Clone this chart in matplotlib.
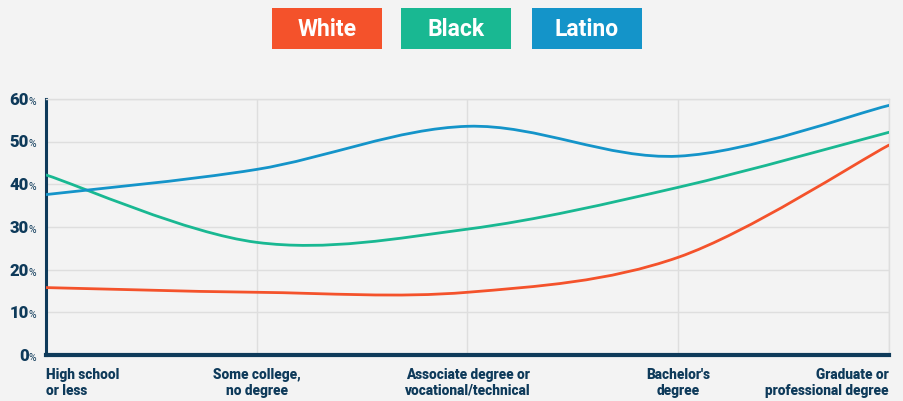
import matplotlib.pyplot as plt
from matplotlib.path import Path
from matplotlib.patches import PathPatch, Rectangle

# Дані
categories = ["High school\nor less", "Some college,\nno degree",
              "Associate degree or\nvocational/technical", "Bachelor's\ndegree",
              "Graduate or\nprofessional degree"]
white = [15.8, 14.7, 14.7, 22.9, 49.2]
black = [42.2, 26.4, 29.5, 39.3, 52.2]
latino = [37.6, 43.5, 53.6, 46.6, 58.5]
series_names = ["White", "Black", "Latino"]
colors = ["#F4522B", "#19B892", "#1494C9"]
yticks = [0, 10, 20, 30, 40, 50, 60]

navy = "#0e3a5a"
bg = "#f3f3f3"
plt.rcParams['font.family'] = ['Roboto', 'DejaVu Sans']


def smooth_path(xs, ys):
    # Catmull-Rom -> кубічні криві Безьє
    pts = list(zip(xs, ys))
    ext = [pts[0]] + pts + [pts[-1]]
    verts = [pts[0]]
    codes = [Path.MOVETO]
    for i in range(1, len(ext) - 2):
        p0, p1, p2, p3 = ext[i - 1], ext[i], ext[i + 1], ext[i + 2]
        c1 = (p1[0] + (p2[0] - p0[0]) / 6, p1[1] + (p2[1] - p0[1]) / 6)
        c2 = (p2[0] - (p3[0] - p1[0]) / 6, p2[1] - (p3[1] - p1[1]) / 6)
        verts += [c1, c2, p2]
        codes += [Path.CURVE4] * 3
    return Path(verts, codes)


fig = plt.figure(figsize=(9.04, 4.01), dpi=100, facecolor=bg)
ax = fig.add_axes([46 / 904, 46 / 401, 843 / 904, 256 / 401])
ax.set_facecolor(bg)

x = list(range(len(categories)))
for vals, c in zip([white, black, latino], colors):
    ax.add_patch(PathPatch(smooth_path(x, vals), facecolor='none',
                           edgecolor=c, lw=2.0, zorder=3, capstyle='round'))

ax.set_xlim(0, len(categories) - 1)
ax.set_ylim(0, 60)
ax.set_xticks(x)
ax.set_yticks(yticks)
ax.grid(True, color="#dedede", lw=1)
ax.set_axisbelow(True)
ax.tick_params(length=0, labelleft=False, labelbottom=False)

for s in ['top', 'right']:
    ax.spines[s].set_color("#dedede")
    ax.spines[s].set_linewidth(1)
ax.spines['left'].set_color(navy)
ax.spines['left'].set_linewidth(2.2)
ax.spines['bottom'].set_color(navy)
ax.spines['bottom'].set_linewidth(3)

# підписи осі Y: число + маленький %
for t in yticks:
    ax.annotate(str(t), (0, t), xycoords=('axes fraction', 'data'),
                xytext=(-12.5, -4.2), textcoords='offset points', ha='right',
                va='baseline', fontsize=12, fontweight=900, color=navy)
    ax.annotate('%', (0, t), xycoords=('axes fraction', 'data'),
                xytext=(-12.3, -4.2), textcoords='offset points', ha='left',
                va='baseline', fontsize=7.5, color=navy)

# підписи осі X
aligns = ['left', 'center', 'center', 'center', 'right']
for i, (lab, al) in enumerate(zip(categories, aligns)):
    ax.annotate(lab, (i, 0), xycoords='data', xytext=(0, -9.5),
                textcoords='offset points', ha=al, va='top', multialignment=al,
                fontsize=9.8, fontweight=900, color=navy, linespacing=1.12)

# легенда у вигляді кольорових плашок
box_x = [272, 401, 532]
for name, c, bx in zip(series_names, colors, box_x):
    fig.patches.append(Rectangle((bx / 904, (401 - 49) / 401), 110 / 904, 41 / 401,
                                 transform=fig.transFigure, facecolor=c,
                                 edgecolor='none'))
    fig.text((bx + 55) / 904, (401 - 29) / 401, name, ha='center', va='center',
             fontsize=16.5, fontweight='bold', color='white')

fig.savefig("out.png", dpi=100, facecolor=bg)
